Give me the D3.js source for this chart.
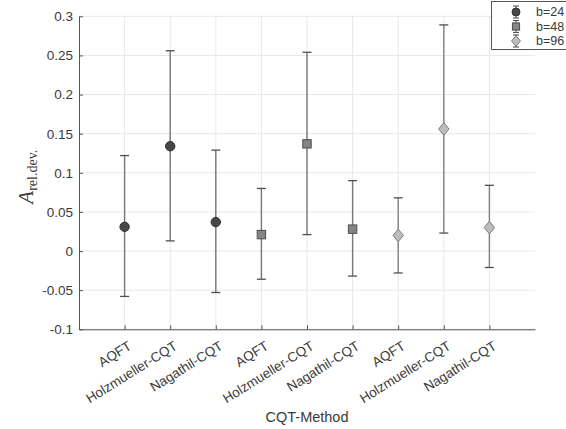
<!DOCTYPE html>
<html>
<head>
<meta charset="utf-8">
<script src="https://cdn.jsdelivr.net/npm/d3@7"></script>
<style>
  html, body { margin: 0; padding: 0; background: #fff; }
  svg { display: block; font-family: "Liberation Sans", Arial, Helvetica, sans-serif; }
</style>
</head>
<body>
<svg id="chart" width="566" height="429"></svg>
<script>
// ---- data ----
const categories = ["AQFT", "Holzmueller-CQT", "Nagathil-CQT",
                    "AQFT", "Holzmueller-CQT", "Nagathil-CQT",
                    "AQFT", "Holzmueller-CQT", "Nagathil-CQT"];
const seriesNames = ["b=24", "b=48", "b=96"];
// mean, upper, lower per series (3 methods each)
const meanB24  = [0.031, 0.134, 0.037];
const upperB24 = [0.122, 0.256, 0.129];
const lowerB24 = [-0.058, 0.013, -0.053];
const meanB48  = [0.021, 0.137, 0.028];
const upperB48 = [0.080, 0.254, 0.090];
const lowerB48 = [-0.036, 0.021, -0.032];
const meanB96  = [0.020, 0.156, 0.030];
const upperB96 = [0.068, 0.289, 0.084];
const lowerB96 = [-0.028, 0.023, -0.021];
const yTicks = [-0.1, -0.05, 0, 0.05, 0.1, 0.15, 0.2, 0.25, 0.3];
const yTickLabels = ["-0.1", "-0.05", "0", "0.05", "0.1", "0.15", "0.2", "0.25", "0.3"];

const series = [
  {name: seriesNames[0], mean: meanB24, upper: upperB24, lower: lowerB24, shape: "circle"},
  {name: seriesNames[1], mean: meanB48, upper: upperB48, lower: lowerB48, shape: "square"},
  {name: seriesNames[2], mean: meanB96, upper: upperB96, lower: lowerB96, shape: "diamond"}
];
const styles = {
  circle:  {fill: "#474747", stroke: "#333", line: "#777"},
  square:  {fill: "#858585", stroke: "#4d4d4d", line: "#777"},
  diamond: {fill: "#bdbdbd", stroke: "#7a7a7a", line: "#808080"}
};

// ---- layout ----
const svg = d3.select("#chart");
const pL = 79, pR = 535, pT = 16.3, pB = 329.3;
const x = d3.scaleLinear().domain([0, 10]).range([pL, pR]);
const y = d3.scaleLinear().domain([-0.1, 0.3]).range([pB, pT]);

// grid
const grid = svg.append("g");
grid.selectAll("line.h").data(yTicks).join("line")
  .attr("x1", pL).attr("x2", pR)
  .attr("y1", d => y(d)).attr("y2", d => y(d))
  .attr("stroke", "#e8e8e8").attr("stroke-width", 1);
grid.selectAll("line.v").data(categories).join("line")
  .attr("x1", (d, i) => x(i + 1)).attr("x2", (d, i) => x(i + 1))
  .attr("y1", pT).attr("y2", pB)
  .attr("stroke", "#e8e8e8").attr("stroke-width", 1);

// y axis
const yAxis = d3.axisLeft(y).tickValues(yTicks)
  .tickFormat((d, i) => yTickLabels[i]).tickSizeInner(-4).tickSizeOuter(0).tickPadding(6);
const gy = svg.append("g").attr("transform", `translate(${pL},0)`).call(yAxis);
gy.select(".domain").attr("stroke", "#555");
gy.selectAll(".tick line").attr("stroke", "#555");
gy.selectAll(".tick text").attr("fill", "#3a3a3a").style("font-size", "13.5px");

// x axis
const xAxis = d3.axisBottom(x).tickValues(d3.range(1, 10))
  .tickFormat((d, i) => categories[i]).tickSizeInner(-4).tickSizeOuter(0);
const gx = svg.append("g").attr("transform", `translate(0,${pB})`).call(xAxis);
gx.select(".domain").attr("stroke", "#555");
gx.selectAll(".tick line").attr("stroke", "#555");
gx.selectAll(".tick text")
  .attr("fill", "#3a3a3a").style("font-size", "13.5px")
  .attr("text-anchor", "end")
  .attr("x", 0).attr("y", 0).attr("dy", "0.35em")
  .attr("transform", "translate(5,15) rotate(-32)");

// x label
svg.append("text").attr("x", x(5)).attr("y", 422)
  .attr("text-anchor", "middle").attr("fill", "#3a3a3a")
  .style("font-size", "14.5px").text("CQT-Method");

// y label
const yl = svg.append("text")
  .attr("transform", `translate(33,${y(0.095)}) rotate(-90)`)
  .attr("text-anchor", "middle").attr("fill", "#3a3a3a")
  .style("font-family", "'Liberation Serif', 'DejaVu Serif', serif");
yl.append("tspan").style("font-style", "italic").style("font-size", "21px").text("A");
yl.append("tspan").attr("dy", 4).style("font-size", "14px").text("rel.dev.");

// marker drawing
function drawMarker(g, shape, cx, cy, scale) {
  const st = styles[shape];
  const s = scale || 1;
  if (shape === "circle") {
    g.append("circle").attr("cx", cx).attr("cy", cy).attr("r", 4.7 * s)
      .attr("fill", st.fill).attr("stroke", st.stroke).attr("stroke-width", 1);
  } else if (shape === "square") {
    const h = 4.2 * s;
    g.append("rect").attr("x", cx - h).attr("y", cy - h).attr("width", 2 * h).attr("height", 2 * h)
      .attr("fill", st.fill).attr("stroke", st.stroke).attr("stroke-width", 1);
  } else {
    const w = 5.2 * s, hh = 6.3 * s;
    g.append("path").attr("d", `M${cx},${cy - hh}L${cx + w},${cy}L${cx},${cy + hh}L${cx - w},${cy}Z`)
      .attr("fill", st.fill).attr("stroke", st.stroke).attr("stroke-width", 1);
  }
}

// error bars + markers
const marks = svg.append("g");
series.forEach((s, si) => {
  s.mean.forEach((m, mi) => {
    const pos = si * 3 + mi + 1;
    const cx = x(pos);
    const st = styles[s.shape];
    const g = marks.append("g");
    g.append("line").attr("x1", cx).attr("x2", cx)
      .attr("y1", y(s.upper[mi])).attr("y2", y(s.lower[mi]))
      .attr("stroke", st.line).attr("stroke-width", 1.4);
    [s.upper[mi], s.lower[mi]].forEach(v => {
      g.append("line").attr("x1", cx - 4.5).attr("x2", cx + 4.5)
        .attr("y1", y(v)).attr("y2", y(v))
        .attr("stroke", "#505050").attr("stroke-width", 1.3);
    });
    drawMarker(g, s.shape, cx, y(m));
  });
});

// legend
const lg = svg.append("g");
lg.append("rect").attr("x", 491.5).attr("y", 1.5).attr("width", 90).attr("height", 48)
  .attr("fill", "#fff").attr("stroke", "#555").attr("stroke-width", 1);
series.forEach((s, i) => {
  const cy = 12 + i * 14.5;
  const cx = 516;
  lg.append("line").attr("x1", cx).attr("x2", cx).attr("y1", cy - 6).attr("y2", cy + 6)
    .attr("stroke", "#666").attr("stroke-width", 1.2);
  [cy - 6, cy + 6].forEach(v => lg.append("line").attr("x1", cx - 3).attr("x2", cx + 3)
    .attr("y1", v).attr("y2", v).attr("stroke", "#555").attr("stroke-width", 1.1));
  drawMarker(lg, s.shape, cx, cy, 0.85);
  lg.append("text").attr("x", 536).attr("y", cy).attr("dy", "0.35em")
    .attr("fill", "#3a3a3a").style("font-size", "12.5px").text(s.name);
});
</script>
</body>
</html>
